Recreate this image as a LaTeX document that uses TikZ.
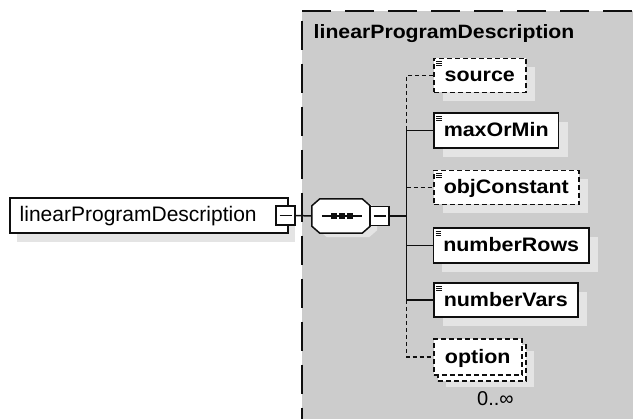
\documentclass[tikz,border=0pt]{standalone}
\usepackage{fontspec}
\setmainfont{Liberation Sans}
\newfontfamily\elemfont{Liberation Sans}[FakeStretch=1.1]
\usetikzlibrary{shadows,calc}
\definecolor{panelgray}{RGB}{204,204,204}
\definecolor{shadegray}{RGB}{228,228,228}
\definecolor{inkc}{RGB}{15,15,15}

\tikzset{
  box/.style={draw=inkc, line width=1.5pt, fill=white, anchor=west,
    inner xsep=10pt, inner ysep=0pt, text height=16pt, text depth=3pt,
    minimum height=34pt},
  elemfnt/.style={font=\elemfont\bfseries\fontsize{19.5}{22}\selectfont},
  elem/.style={box, elemfnt,
    drop shadow={shadow xshift=9pt, shadow yshift=-9pt, fill=shadegray,
      opacity=1, draw=none}},
  optional/.style={dash pattern=on 5pt off 3pt},
  conn/.style={draw=inkc, line width=1.5pt},
  optconn/.style={conn, dash pattern=on 4pt off 3pt},
  minusbox/.style={draw=inkc, line width=1.5pt, fill=white,
    minimum width=19pt, minimum height=19pt, inner sep=0pt},
  panelborder/.style={draw=inkc, line width=2.2pt, dash pattern=on 29pt off 14pt},
}

% small "documentation" mark in the top left corner of an element box
\newcommand\docmark[1]{%
  \foreach \dy in {4,5.9,7.8}{%
    \draw[line width=0.8pt, draw=inkc] ($(#1.north west)+(3,\dy)$) -- ++(5.5,0);}}
% horizontal bar inside a collapse box
\newcommand\minusbar[1]{%
  \draw[line width=1.3pt, draw=inkc] ($(#1.center)+(-6,0)$) -- ($(#1.center)+(6,0)$);}
% outline of the sequence compositor, shifted by (#1,#2)
\newcommand\seqoutline[2]{%
  ($(seq.north west)+(8+#1,#2)$) -- ($(seq.north east)+(-8+#1,#2)$) --
  ($(seq.north east)+(#1,7+#2)$) -- ($(seq.south east)+(#1,-7+#2)$) --
  ($(seq.south east)+(-8+#1,#2)$) -- ($(seq.south west)+(8+#1,#2)$) --
  ($(seq.south west)+(#1,-7+#2)$) -- ($(seq.north west)+(#1,7+#2)$) -- cycle}

\begin{document}
\begin{tikzpicture}[x=1pt, y=-1pt]
\useasboundingbox (0,0) rectangle (633,419);

% complex type panel
\fill[panelgray] (302,10.7) rectangle (633,419);
\draw[panelborder] (302,10.7) -- (633,10.7);
\draw[panelborder, dash phase=33pt] (302,10.7) -- (302,419);
\node[anchor=base west, inner sep=0pt, font=\elemfont\bfseries\fontsize{19.3}{22}\selectfont]
  (title) at (313.5,39) {linearProgramDescription};

% root element
\node[box, minimum height=35pt, text width=258pt, align=left,
  font=\fontsize{21}{24}\selectfont,
  drop shadow={shadow xshift=7pt, shadow yshift=-9pt, fill=shadegray, opacity=1, draw=none}]
  (root) at (9,215.5) {linearProgramDescription};
\node[minusbox] (rootm) at (285.5,215.5) {};
\minusbar{rootm}

% sequence compositor
\node[minimum width=58pt, minimum height=34pt, inner sep=0pt] (seq) at (341,216) {};
\coordinate (trunk) at (406.5,216);
\draw[conn] (rootm.east) -- (seq.west);
\fill[shadegray] \seqoutline{7}{4};
\draw[conn, fill=white] \seqoutline{0}{0};
\draw[conn] ($(seq.west)+(10,0)$) -- ($(seq.east)+(-8,0)$);
\foreach \sx in {-7,1,9}{
  \fill[inkc] ($(seq.center)+(\sx-3,-3)$) rectangle ++(6,6);}
\node[minusbox] (seqm) at (379.5,216) {};
\minusbar{seqm}
\draw[conn] (seqm.east) -- (trunk);

% connectors from the sequence to its children
\coordinate (srcT) at (406.5,75.5);
\coordinate (maxT) at (406.5,130.5);
\coordinate (objT) at (406.5,187.5);
\coordinate (rowT) at (406.5,245.5);
\coordinate (varT) at (406.5,300);
\coordinate (optT) at (406.5,357);
\draw[optconn] (433,75.5) -- (srcT) -- (maxT);
\draw[conn] (433,130.5) -- (maxT) -- (varT) -- (433,300);
\draw[optconn] (objT) -- (433,187.5);
\draw[conn] (rowT) -- (433,245.5);
\draw[optconn] (varT) -- (optT) -- (433,357);

% child elements
\node[elem, optional, minimum width=92pt] (source) at (433,75.5) {source};
\node[elem, minimum width=123pt, minimum height=35pt] (maxOrMin) at (433,130.5) {maxOrMin};
\node[elem, optional, minimum width=140pt] (objConstant) at (433,187.5) {objConstant};
\node[elem, minimum width=155pt, minimum height=35pt] (numberRows) at (432.5,245.5) {numberRows};
\node[elem, minimum width=144pt] (numberVars) at (433,300) {numberVars};
\node[box, optional, minimum width=88pt, minimum height=36pt,
  drop shadow={shadow xshift=8pt, shadow yshift=-6pt, fill=shadegray, opacity=1, draw=none}]
  (optionstack) at (437,363) {};
\node[box, elemfnt, optional, minimum width=88pt, minimum height=36pt] (option) at (433,357) {option};

\docmark{source}
\docmark{maxOrMin}
\docmark{objConstant}
\docmark{numberRows}
\docmark{numberVars}

\node[anchor=base west, inner sep=0pt, font=\fontsize{20}{24}\selectfont]
  (occurs) at (477,405.5) {0..∞};
\end{tikzpicture}
\end{document}
